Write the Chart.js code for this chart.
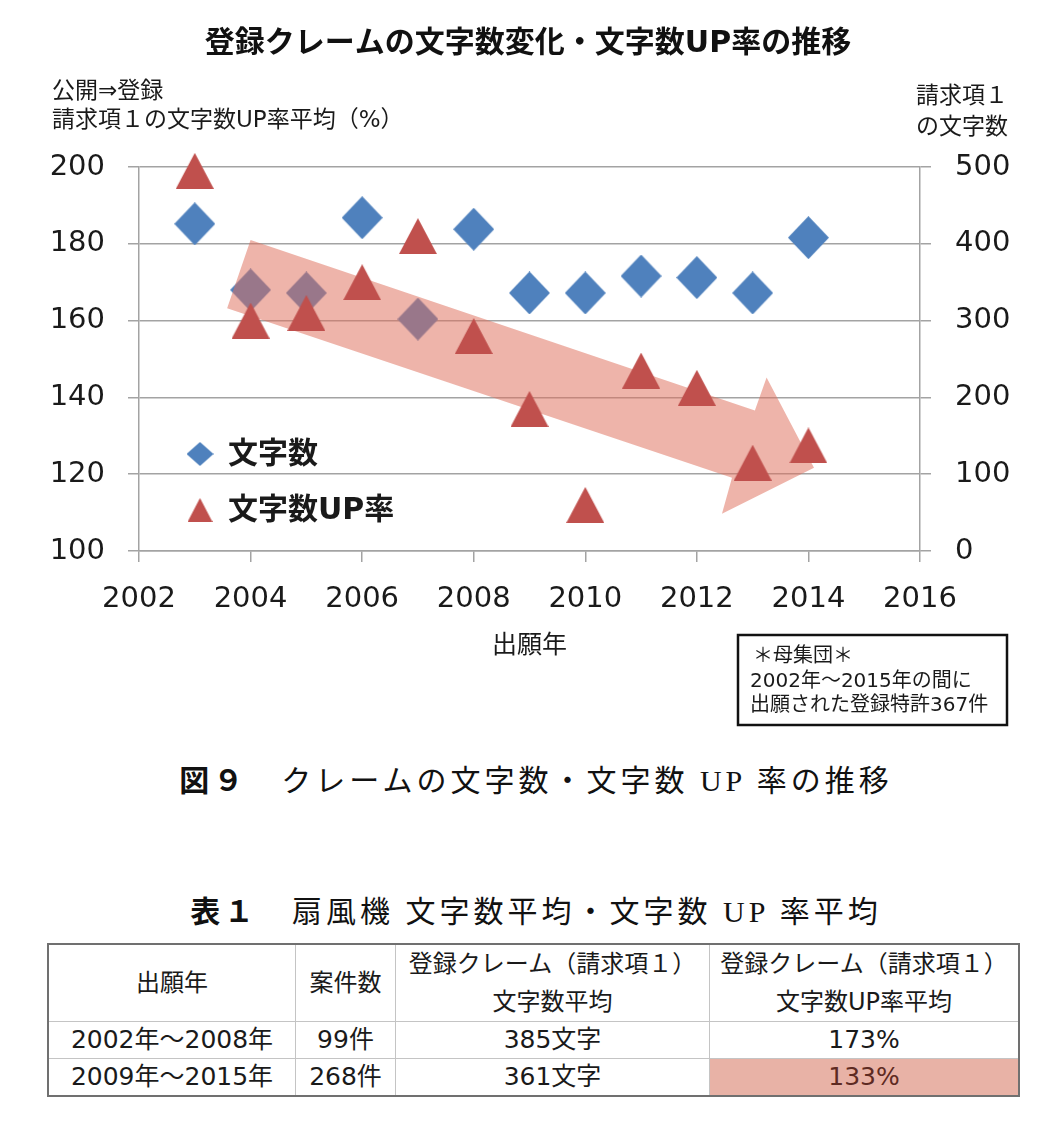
<!DOCTYPE html>
<html lang="ja">
<head>
<meta charset="utf-8">
<title>登録クレームの文字数変化・文字数UP率の推移</title>
<script src="https://cdn.jsdelivr.net/npm/chart.js@4.4.1/dist/chart.umd.min.js"></script>
<style>
  body {
    margin: 0;
    width: 1056px;
    height: 1130px;
    position: relative;
    overflow: hidden;
    background: #fff;
    color: #1a1a1a;
    font-family: "DejaVu Sans", "Noto Sans CJK JP", sans-serif;
  }
  #chart { position: absolute; left: 0; top: 0; }
  .caption {
    position: absolute;
    left: 8px;
    width: 1056px;
    text-align: center;
    font-family: "Liberation Serif", "Noto Sans CJK JP", serif;
    font-size: 30px;
    line-height: 40px;
    letter-spacing: 4px;
    color: #111;
  }
  .caption b { font-family: "Noto Sans CJK JP", sans-serif; }
  table {
    position: absolute;
    left: 47px;
    top: 943px;
    width: 973px;
    border-collapse: collapse;
    border: 2px solid #707070;
    font-size: 25px;
    color: #1a1a1a;
  }
  td, th {
    border: 1px solid #c4c4c4;
    text-align: center;
    font-weight: normal;
    padding: 0;
    line-height: 36px;
  }
  th { height: 74px; line-height: 38px; font-size: 24px; }
  td.hl { background: #e8b2a6; color: #5e2a22; }
</style>
</head>
<body>
<canvas id="chart" width="1056" height="740"></canvas>

<div class="caption" style="top:758px"><b>図９</b>　クレームの文字数・文字数 UP 率の推移</div>
<div class="caption" style="top:889px"><b>表１</b>　扇風機 文字数平均・文字数 UP 率平均</div>

<table>
  <tr>
    <th style="width:246px">出願年</th>
    <th style="width:99px">案件数</th>
    <th style="width:313px">登録クレーム（請求項１）<br>文字数平均</th>
    <th>登録クレーム（請求項１）<br>文字数UP率平均</th>
  </tr>
  <tr><td>2002年～2008年</td><td>99件</td><td>385文字</td><td>173%</td></tr>
  <tr><td>2009年～2015年</td><td>268件</td><td>361文字</td><td class="hl">133%</td></tr>
</table>

<script>
// values
const years = [2003, 2004, 2005, 2006, 2007, 2008, 2009, 2010, 2011, 2012, 2013, 2014];
const charCounts = [426, 340, 336, 434, 302, 419, 336, 336, 358, 356, 336, 408];
const upRates = [199, 160, 162, 170, 182, 156, 137, 112, 147, 142.5, 123, 127.5];

const yearRange = [2002, 2016, 2];
const rateRange = [100, 200, 20];
const countRange = [0, 500, 100];

const seriesNames = ["文字数", "文字数UP率"];
const leftAxisTitle = ["公開⇒登録", "請求項１の文字数UP率平均（%）"];
const rightAxisTitle = ["請求項１", "の文字数"];
const noteLines = ["＊母集団＊", "2002年～2015年の間に", "出願された登録特許367件"];

// trend arrow outline in (year, UP率) units
const trendArrow = [
  [2004.0, 181], [2013.04, 136.6], [2013.25, 145.2], [2014.1, 121.7],
  [2012.45, 109.7], [2012.63, 119.1], [2003.58, 163.2]
];

const BLUE = "#4f81bd";
const RED = "#c0504d";
const FONT = '"DejaVu Sans", "Noto Sans CJK JP", sans-serif';

function makeMarker(shape, w, h, color) {
  const c = document.createElement("canvas");
  c.width = w;
  c.height = h;
  const g = c.getContext("2d");
  g.fillStyle = color;
  g.beginPath();
  if (shape === "diamond") {
    g.moveTo(w / 2, 0);
    g.lineTo(w, h / 2);
    g.lineTo(w / 2, h);
    g.lineTo(0, h / 2);
  } else {
    g.moveTo(w / 2, 0);
    g.lineTo(w, h);
    g.lineTo(0, h);
  }
  g.closePath();
  g.fill();
  return c;
}

const diamond = makeMarker("diamond", 41, 43, BLUE);
const triangle = makeMarker("triangle", 38, 36, RED);
const diamondSmall = makeMarker("diamond", 27, 24, BLUE);
const triangleSmall = makeMarker("triangle", 25, 24, RED);

// arrow drawn between the two series (over diamonds, under triangles)
const arrowPlugin = {
  id: "arrow",
  beforeDatasetDraw(chart, args) {
    if (args.index !== 0) return;
    const { ctx, scales } = chart;
    ctx.save();
    ctx.fillStyle = "rgba(222, 112, 92, 0.52)";
    ctx.beginPath();
    trendArrow.forEach(([yr, v], i) => {
      const px = scales.x.getPixelForValue(yr);
      const py = scales.y.getPixelForValue(v);
      if (i === 0) ctx.moveTo(px, py);
      else ctx.lineTo(px, py);
    });
    ctx.closePath();
    ctx.fill();
    ctx.restore();
  }
};

const textPlugin = {
  id: "texts",
  afterDraw(chart) {
    const { ctx, chartArea: a } = chart;
    ctx.save();
    ctx.fillStyle = "#1a1a1a";
    ctx.textBaseline = "middle";

    // axis titles above the plot
    ctx.font = "23px " + FONT;
    ctx.textAlign = "left";
    leftAxisTitle.forEach((t, i) => ctx.fillText(t, 52, a.top - 75 + i * 29));
    ctx.textAlign = "right";
    rightAxisTitle.forEach((t, i) => ctx.fillText(t, 1008, a.top - 70 + i * 31));

    // legend inside the plot
    const lx = a.left + 61;
    const ly = [a.top + 287, a.top + 343];
    const marks = [diamondSmall, triangleSmall];
    ctx.font = "bold 30px " + FONT;
    ctx.textAlign = "left";
    seriesNames.forEach((name, i) => {
      const m = marks[i];
      ctx.drawImage(m, lx - m.width / 2, ly[i] - m.height / 2);
      ctx.fillText(name, lx + 28, ly[i] + 1);
    });

    // population note box
    ctx.lineWidth = 2.5;
    ctx.strokeStyle = "#111";
    ctx.fillStyle = "#fff";
    ctx.fillRect(738, 635, 269, 90);
    ctx.strokeRect(738, 635, 269, 90);
    ctx.fillStyle = "#1a1a1a";
    ctx.font = "20px " + FONT;
    ctx.fillText(noteLines[0], 753, 657);
    ctx.fillText(noteLines[1], 750, 682);
    ctx.fillText(noteLines[2], 750, 706);
    ctx.restore();
  }
};

const gridColor = "#a3a3a3";

new Chart(document.getElementById("chart"), {
  type: "scatter",
  data: {
    datasets: [
      {
        label: seriesNames[1],
        data: years.map((yr, i) => ({ x: yr, y: upRates[i] })),
        yAxisID: "y",
        pointStyle: triangle,
        backgroundColor: RED,
        borderColor: RED
      },
      {
        label: seriesNames[0],
        data: years.map((yr, i) => ({ x: yr, y: charCounts[i] })),
        yAxisID: "y1",
        pointStyle: diamond,
        backgroundColor: BLUE,
        borderColor: BLUE
      }
    ]
  },
  options: {
    responsive: false,
    animation: false,
    clip: false,
    layout: { padding: 0 },
    plugins: {
      legend: { display: false },
      tooltip: { enabled: false },
      title: {
        display: true,
        text: "登録クレームの文字数変化・文字数UP率の推移",
        color: "#111",
        font: { family: FONT, size: 30, weight: "bold" },
        padding: { top: 26, bottom: 105 }
      }
    },
    scales: {
      x: {
        type: "linear",
        min: yearRange[0],
        max: yearRange[1],
        ticks: {
          stepSize: yearRange[2],
          color: "#1a1a1a",
          font: { family: FONT, size: 29 },
          padding: 20,
          callback: (v) => String(v)
        },
        grid: { drawOnChartArea: false, color: gridColor, lineWidth: 1.5, tickLength: 11 },
        border: { color: gridColor, width: 1.5 },
        title: {
          display: true,
          text: "出願年",
          color: "#1a1a1a",
          font: { family: FONT, size: 25 },
          padding: { top: 0, bottom: 79 }
        },
        afterFit: (s) => { s.height = 189; }
      },
      y: {
        position: "left",
        min: rateRange[0],
        max: rateRange[1],
        ticks: {
          stepSize: rateRange[2],
          color: "#1a1a1a",
          font: { family: FONT, size: 29 },
          padding: 23
        },
        grid: { color: gridColor, lineWidth: 1.5, tickLength: 11 },
        border: { color: gridColor, width: 1.5 },
        afterFit: (s) => { s.width = 139; }
      },
      y1: {
        position: "right",
        min: countRange[0],
        max: countRange[1],
        ticks: {
          stepSize: countRange[2],
          color: "#1a1a1a",
          font: { family: FONT, size: 29 },
          padding: 24
        },
        grid: { drawOnChartArea: false, color: gridColor, lineWidth: 1.5, tickLength: 11 },
        border: { color: gridColor, width: 1.5 },
        afterFit: (s) => { s.width = 136; }
      }
    }
  },
  plugins: [arrowPlugin, textPlugin]
});
</script>
</body>
</html>
